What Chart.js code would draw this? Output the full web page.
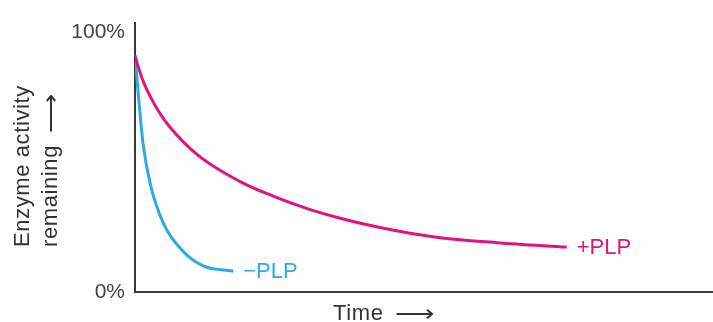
<!DOCTYPE html>
<html>
<head>
<meta charset="utf-8">
<script src="https://cdn.jsdelivr.net/npm/chart.js@4"></script>
<style>
  html, body { margin: 0; padding: 0; background: #fff; }
  #wrap { width: 713px; height: 322px; }
</style>
</head>
<body>
<div id="wrap"><canvas id="c" width="713" height="322"></canvas></div>
<script>
// ---- data ----
const yTickValues = [0, 100];
const plusPlpTime     = [0, 0.69, 1.38, 2.6, 4.33, 6.06, 10.7, 18.2, 23.9, 29.8, 35.5, 41.2, 47.1, 52.8, 62.6, 74.7];
const plusPlpActivity = [91, 85.8, 81.3, 75.4, 68.7, 63.4, 53.0, 42.5, 36.9, 32.1, 28.4, 25.4, 22.8, 20.9, 19.0, 17.3];
const minusPlpTime     = [0, 0.5, 1.4, 2.6, 4.8, 8.3, 11.8, 17.0];
const minusPlpActivity = [91, 78, 57, 42, 27, 15.7, 10.1, 8.0];
const seriesLabels = ['+PLP', '\u2212PLP'];
const yTitleWords = ['Enzyme activity', 'remaining'];
const xTitleWord = 'Time';
const ARROW = '\u27F6';

const MAGENTA = '#E2137F';
const BLUE = '#2DA9E6';
const FONT = '"Liberation Sans", Arial, sans-serif';

const toPts = (xs, ys) => xs.map((x, i) => ({x: x, y: ys[i]}));

// draws word(s) then an optional long arrow, starting at (0,0), left aligned, middle baseline
function drawTitleText(ctx, word, withArrow) {
  ctx.letterSpacing = '0.6px';
  ctx.fillText(word, 0, 0);
  let w = ctx.measureText(word).width;
  ctx.letterSpacing = '0px';
  if (withArrow) {
    const aw = ctx.measureText(ARROW).width;
    ctx.save();
    ctx.translate(w + 12, 0);
    ctx.scale(40 / aw, 1);
    ctx.fillText(ARROW, 0, 1);
    ctx.restore();
  }
}

const labelsPlugin = {
  id: 'endLabels',
  afterDatasetsDraw(chart) {
    const ctx = chart.ctx;
    const xs = chart.scales.x, ys = chart.scales.y;
    ctx.save();
    ctx.font = '22px ' + FONT;
    ctx.textBaseline = 'middle';
    ctx.textAlign = 'left';
    chart.data.datasets.forEach(ds => {
      const last = ds.data[ds.data.length - 1];
      ctx.fillStyle = ds.borderColor;
      ctx.fillText(ds.label, xs.getPixelForValue(last.x) + 10, ys.getPixelForValue(last.y) + 1);
    });
    const ca = chart.chartArea;
    ctx.fillStyle = '#333';
    ctx.font = '22px ' + FONT;
    // y axis title (two lines, rotated)
    yTitleWords.forEach((t, i) => {
      ctx.save();
      ctx.translate(23 + i * 28, ca.bottom - 45);
      ctx.rotate(-Math.PI / 2);
      drawTitleText(ctx, t, i === 1);
      ctx.restore();
    });
    // x axis title
    ctx.save();
    ctx.translate(333, ca.bottom + 22);
    drawTitleText(ctx, xTitleWord, true);
    ctx.restore();
    ctx.restore();
  }
};

new Chart(document.getElementById('c'), {
  type: 'line',
  data: {
    datasets: [
      { label: seriesLabels[0], data: toPts(plusPlpTime, plusPlpActivity),
        borderColor: MAGENTA, borderWidth: 3, pointRadius: 0, fill: false,
        cubicInterpolationMode: 'monotone' },
      { label: seriesLabels[1], data: toPts(minusPlpTime, minusPlpActivity),
        borderColor: BLUE, borderWidth: 3, pointRadius: 0, fill: false,
        cubicInterpolationMode: 'monotone' }
    ]
  },
  options: {
    responsive: false,
    animation: false,
    layout: { padding: { top: 14, left: 0, right: 0, bottom: 0 } },
    plugins: { legend: { display: false }, tooltip: { enabled: false } },
    scales: {
      x: {
        type: 'linear', min: 0, max: 100,
        grid: { display: false, drawTicks: false },
        border: { display: true, color: '#3a3a3a', width: 2 },
        ticks: { display: false },
        afterFit(s) { s.height = 30; }
      },
      y: {
        min: 0, max: 103.7,
        grid: { display: false, drawTicks: false },
        border: { display: true, color: '#3a3a3a', width: 2 },
        afterBuildTicks(s) { s.ticks = yTickValues.map(v => ({value: v})); },
        ticks: {
          padding: 10, color: '#444',
          font: { family: FONT, size: 21 },
          callback: v => v + '%'
        },
        afterFit(s) { s.width = 135; }
      }
    }
  },
  plugins: [labelsPlugin]
});
</script>
</body>
</html>
